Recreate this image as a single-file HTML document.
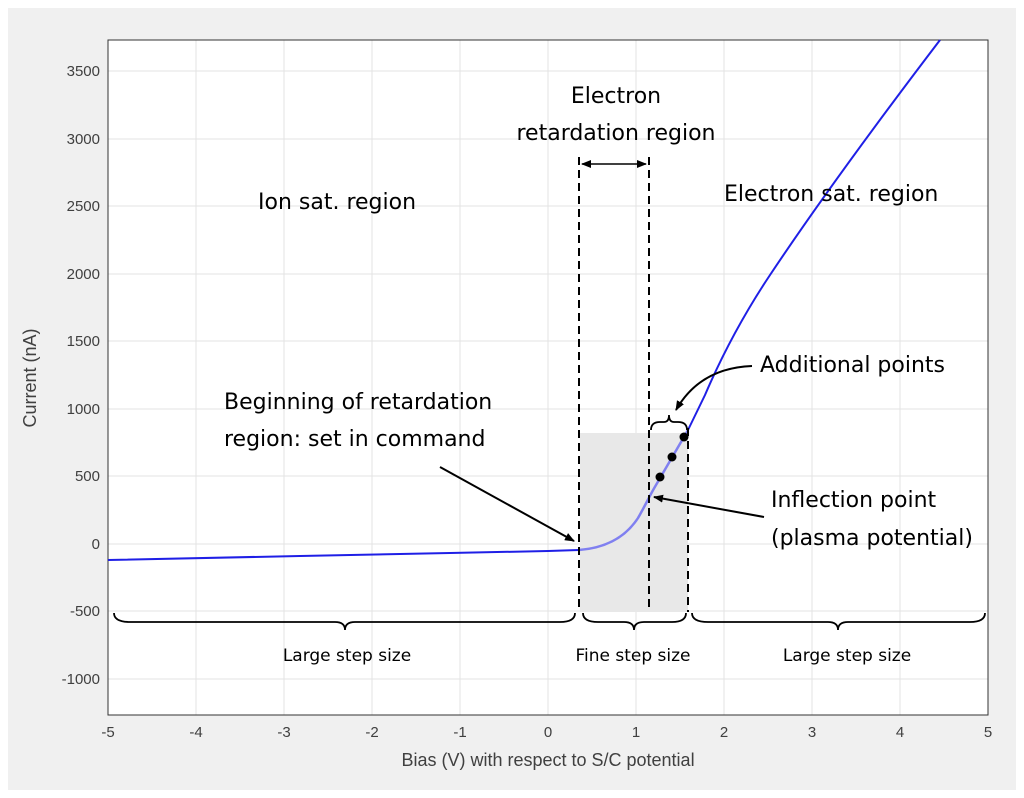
<!DOCTYPE html>
<html><head><meta charset="utf-8"><style>
body{margin:0;background:#fff;}
svg{display:block;font-family:"Liberation Sans",sans-serif;}
.t{font-size:15px;fill:#404040;}
.a{font-size:22px;fill:#000;font-family:"DejaVu Sans","Liberation Sans",sans-serif;}
.s{font-size:17px;fill:#000;font-family:"DejaVu Sans","Liberation Sans",sans-serif;}
</style></head><body>
<svg width="1024" height="798" viewBox="0 0 1024 798">
<defs><marker id="ar" markerWidth="10" markerHeight="8" refX="9" refY="4" orient="auto" markerUnits="userSpaceOnUse"><path d="M0,0 L10,4 L0,8z" fill="#000"/></marker>
<marker id="ar2" markerWidth="10" markerHeight="8" refX="1" refY="4" orient="auto" markerUnits="userSpaceOnUse"><path d="M10,0 L0,4 L10,8z" fill="#000"/></marker></defs>
<rect x="8" y="8" width="1008" height="782" fill="#f0f0f0"/>
<rect x="108" y="40" width="880" height="675" fill="#fff"/>
<g stroke="#e3e3e3" stroke-width="1">
<line x1="196" y1="40" x2="196" y2="715"/><line x1="284" y1="40" x2="284" y2="715"/><line x1="372" y1="40" x2="372" y2="715"/><line x1="460" y1="40" x2="460" y2="715"/><line x1="548" y1="40" x2="548" y2="715"/><line x1="636" y1="40" x2="636" y2="715"/><line x1="724" y1="40" x2="724" y2="715"/><line x1="812" y1="40" x2="812" y2="715"/><line x1="900" y1="40" x2="900" y2="715"/>
<line x1="108" y1="71" x2="988" y2="71"/><line x1="108" y1="139" x2="988" y2="139"/><line x1="108" y1="206" x2="988" y2="206"/><line x1="108" y1="274" x2="988" y2="274"/><line x1="108" y1="341" x2="988" y2="341"/><line x1="108" y1="409" x2="988" y2="409"/><line x1="108" y1="476" x2="988" y2="476"/><line x1="108" y1="544" x2="988" y2="544"/><line x1="108" y1="611" x2="988" y2="611"/><line x1="108" y1="679" x2="988" y2="679"/>
</g>
<rect x="580" y="433" width="108" height="179" fill="#e8e8e8"/>
<rect x="108" y="40" width="880" height="675" fill="none" stroke="#333" stroke-width="1"/>
<g class="t" text-anchor="end">
<text x="100" y="76">3500</text><text x="100" y="144">3000</text><text x="100" y="211">2500</text><text x="100" y="279">2000</text><text x="100" y="346">1500</text><text x="100" y="414">1000</text><text x="100" y="481">500</text><text x="100" y="549">0</text><text x="100" y="616">-500</text><text x="100" y="684">-1000</text>
</g>
<g class="t" text-anchor="middle">
<text x="108" y="737">-5</text><text x="196" y="737">-4</text><text x="284" y="737">-3</text><text x="372" y="737">-2</text><text x="460" y="737">-1</text><text x="548" y="737">0</text><text x="636" y="737">1</text><text x="724" y="737">2</text><text x="812" y="737">3</text><text x="900" y="737">4</text><text x="988" y="737">5</text>
<text x="548" y="766" font-size="18">Bias (V) with respect to S/C potential</text>
<text transform="translate(36,378) rotate(-90)" font-size="18">Current (nA)</text>
</g>
<polyline fill="none" stroke="#1f1fe6" stroke-width="2" points="108,560 300,556 450,553 548,551 579,550"/>
<path fill="none" stroke="#8080f0" stroke-width="2.5" d="M579,550 C605,548 625,538 638,518 C645,506 650,495 656,485 L688,430"/>
<path fill="none" stroke="#1f1fe6" stroke-width="2" d="M688,430 L705,395 C720,360 740,320 770,275 C810,215 860,145 940,40"/>
<g fill="#000"><circle cx="660" cy="477" r="4.5"/><circle cx="672" cy="457" r="4.5"/><circle cx="684" cy="437" r="4.5"/></g>
<g stroke="#000" stroke-width="2" stroke-dasharray="8,5">
<line x1="579" y1="157" x2="579" y2="612"/><line x1="649" y1="157" x2="649" y2="612"/><line x1="688" y1="428" x2="688" y2="612"/>
</g>
<line x1="582" y1="164" x2="646" y2="164" stroke="#000" stroke-width="1.5" marker-start="url(#ar2)" marker-end="url(#ar)"/>
<g fill="none" stroke="#000" stroke-width="1.8">
<path d="M114,613 Q114,622 130,622 L335,622 Q345,622 345,630 Q345,622 355,622 L560,622 Q575,622 575,613"/>
<path d="M583,613 Q583,622 598,622 L624,622 Q634,622 634,630 Q634,622 644,622 L672,622 Q686,622 686,613"/>
<path d="M692,613 Q692,622 708,622 L828,622 Q838,622 838,630 Q838,622 848,622 L970,622 Q985,622 985,613"/>
<path d="M651,430 Q651,422 660,422 L664,422 Q669,422 669,415 Q669,422 674,422 L678,422 Q687,422 687,430"/>
</g>
<line x1="440" y1="467" x2="574" y2="541" stroke="#000" stroke-width="2" marker-end="url(#ar)"/>
<line x1="764" y1="517" x2="654" y2="497" stroke="#000" stroke-width="2" marker-end="url(#ar)"/>
<path d="M752,366 Q700,368 676,410" fill="none" stroke="#000" stroke-width="2" marker-end="url(#ar)"/>
<g class="a">
<text x="616" y="103" text-anchor="middle">Electron</text>
<text x="616" y="140" text-anchor="middle">retardation region</text>
<text x="258" y="209">Ion sat. region</text>
<text x="724" y="201">Electron sat. region</text>
<text x="760" y="372">Additional points</text>
<text x="224" y="409">Beginning of retardation</text>
<text x="224" y="446">region: set in command</text>
<text x="771" y="507">Inflection point</text>
<text x="771" y="545">(plasma potential)</text>
</g>
<g class="s" text-anchor="middle">
<text x="347" y="661">Large step size</text>
<text x="633" y="661">Fine step size</text>
<text x="847" y="661">Large step size</text>
</g>
</svg>
</body></html>
